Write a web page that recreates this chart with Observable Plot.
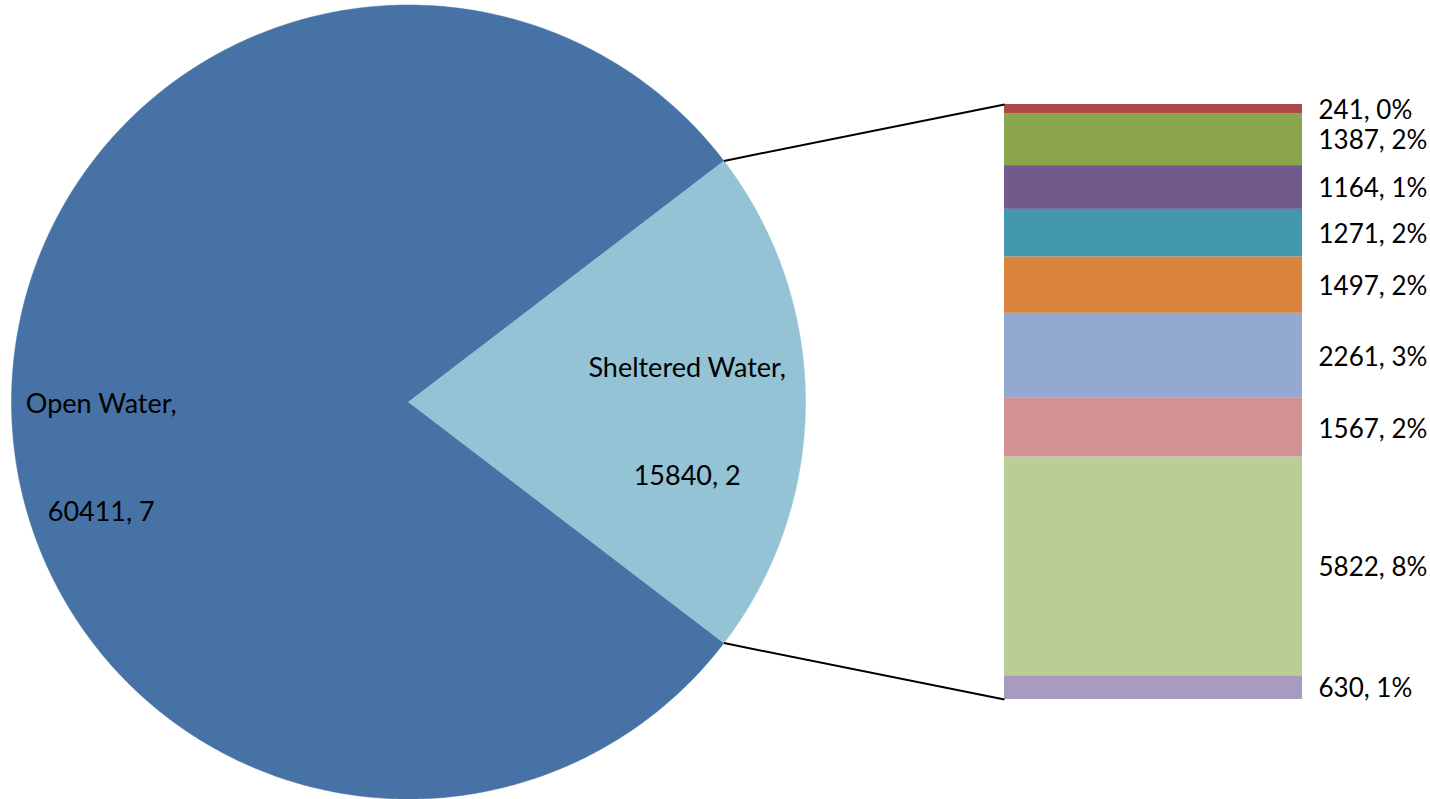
<!DOCTYPE html>
<html>
<head>
<meta charset="utf-8">
<script src="https://cdn.jsdelivr.net/npm/d3@7"></script>
<script src="https://cdn.jsdelivr.net/npm/@observablehq/plot@0.6"></script>
<style>
  html, body { margin: 0; padding: 0; background: #ffffff; }
  #chart { width: 1430px; height: 799px; }
</style>
</head>
<body>
<div id="chart"></div>
<script>
// ---- Data ----
const pieCategories = ["Open Water", "Sheltered Water"];
const pieValues = [60411, 15840];
const pieLabelTails = ["7", "2"];          // truncated percentage text as shown
const pieColors = ["#4672A5", "#93C3D4"];

const barValues = [241, 1387, 1164, 1271, 1497, 2261, 1567, 5822, 630];
const barPercents = [0, 2, 1, 2, 2, 3, 2, 8, 1];
const barColors = ["#AE4849", "#8BA54E", "#735A8D", "#4398AF", "#DB843E", "#94A9CF", "#D29192", "#B9CD96", "#A99BBE"];

// ---- Layout ----
const W = 1430, H = 799;
const cx = 408, cy = 401.5, r = 397;
const barLeft = 1004, barRight = 1302, barTop = 104, barBottom = 699;
const labelX = 1318;
const pieLabelRadius = [0.774, 0.702];
const pieLabelDy = [30, -6];
const font = "Lato, 'Open Sans', sans-serif";

const total = d3.sum(barValues);              // = Sheltered Water value
const toY = px => (barBottom - px) / (barBottom - barTop) * total;

// pie slices (angles clockwise from 12 o'clock); Sheltered centred on 3 o'clock
const share = pieValues[1] / d3.sum(pieValues);
const half = share * Math.PI;
const startA = Math.PI / 2 + half;
const arcs = d3.pie().sort(null).startAngle(startA).endAngle(startA + 2 * Math.PI)(pieValues);

const pt = a => ({x: cx + r * Math.sin(a), y: toY(cy - r * Math.cos(a))});

const sliceMarks = arcs.map((arc, i) => {
  const n = Math.max(8, Math.ceil((arc.endAngle - arc.startAngle) / (2 * Math.PI) * 720));
  const pts = [{x: cx, y: toY(cy)}];
  for (let k = 0; k <= n; k++) {
    pts.push(pt(arc.startAngle + (arc.endAngle - arc.startAngle) * k / n));
  }
  pts.push({x: cx, y: toY(cy)});
  return Plot.line(pts, {x: "x", y: "y", fill: pieColors[i], stroke: pieColors[i], strokeWidth: 0.5, curve: "linear"});
});

const pieLabelData = arcs.map((arc, i) => {
  const mid = (arc.startAngle + arc.endAngle) / 2;
  return {
    x: cx + pieLabelRadius[i] * r * Math.sin(mid),
    y: toY(cy - pieLabelRadius[i] * r * Math.cos(mid) + pieLabelDy[i]),
    text: `${pieCategories[i]},\n${pieValues[i]}, ${pieLabelTails[i]}`
  };
});

const shelt = arcs[1];
const edgeA = pt(shelt.startAngle);
const edgeB = pt(shelt.endAngle);
const pUpper = edgeA.y > edgeB.y ? edgeA : edgeB;
const pLower = edgeA.y > edgeB.y ? edgeB : edgeA;
const links = [
  {x1: pUpper.x, y1: pUpper.y, x2: barLeft, y2: total},
  {x1: pLower.x, y1: pLower.y, x2: barLeft, y2: 0}
];

const barData = barValues.map((v, i) => ({value: v, pct: barPercents[i], color: barColors[i]}));

const chart = Plot.plot({
  width: W,
  height: H,
  margin: 0,
  x: {domain: [0, W], range: [0, W], axis: null},
  y: {domain: [0, total], range: [barBottom, barTop], axis: null},
  color: {type: "identity"},
  style: {background: "#ffffff", fontFamily: font},
  marks: [
    ...sliceMarks,
    Plot.rect(barData, Plot.stackY({x1: barLeft, x2: barRight, y: "value", fill: "color", reverse: true})),
    Plot.link(links, {x1: "x1", y1: "y1", x2: "x2", y2: "y2", stroke: "#000000", strokeWidth: 2}),
    Plot.text(barData, Plot.stackY({x: labelX, y: "value", reverse: true, text: d => `${d.value}, ${d.pct}%`,
      textAnchor: "start", fontSize: 26, fill: "#000000", dy: 1.5})),
    Plot.text(pieLabelData, {x: "x", y: "y", text: "text", textAnchor: "middle", fontSize: 27,
      lineHeight: 4.0, fill: "#000000"})
  ]
});
document.getElementById("chart").appendChild(chart);
</script>
</body>
</html>
